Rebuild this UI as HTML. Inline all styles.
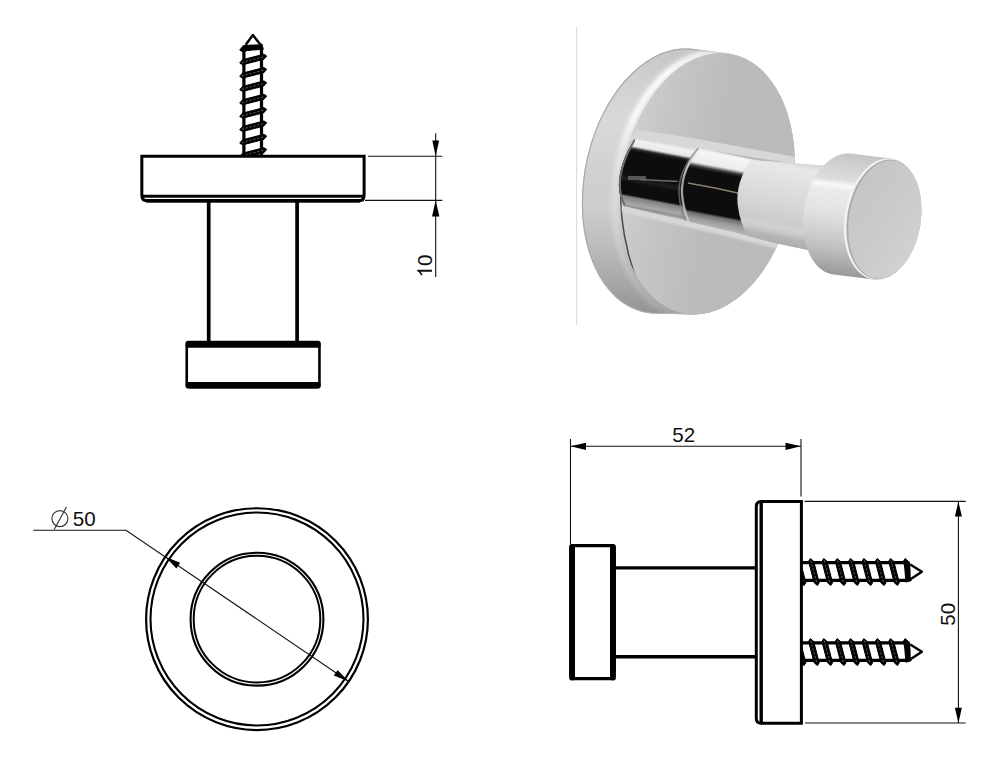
<!DOCTYPE html>
<html><head><meta charset="utf-8"><title>Hook drawing</title>
<style>
html,body{margin:0;padding:0;background:#fff;}
body{width:1000px;height:766px;overflow:hidden;font-family:"Liberation Sans",sans-serif;}
svg{display:block;position:absolute;left:0;top:0;}
text{font-family:"Liberation Sans",sans-serif;font-size:20.6px;fill:#111;}
</style></head><body>
<svg width="1000" height="766" viewBox="0 0 1000 766">
<defs>
<g id="screwA">
<path d="M0,-9 H105.3 M0,8.6 H105.3" stroke="#000" stroke-width="3.2" fill="none"/>
<path d="M-3.95,-13.2 L-0.67,-10.399999999999999 L4.87,11.0 L3.05,13.8 L-0.23,11.0 L-5.77,-10.399999999999999 Z M9.40,-13.2 L12.68,-10.399999999999999 L18.22,11.0 L16.40,13.8 L13.12,11.0 L7.58,-10.399999999999999 Z M22.75,-13.2 L26.03,-10.399999999999999 L31.57,11.0 L29.75,13.8 L26.47,11.0 L20.93,-10.399999999999999 Z M36.10,-13.2 L39.38,-10.399999999999999 L44.92,11.0 L43.10,13.8 L39.82,11.0 L34.28,-10.399999999999999 Z M49.45,-13.2 L52.73,-10.399999999999999 L58.27,11.0 L56.45,13.8 L53.17,11.0 L47.63,-10.399999999999999 Z M62.80,-13.2 L66.08,-10.399999999999999 L71.62,11.0 L69.80,13.8 L66.52,11.0 L60.98,-10.399999999999999 Z M76.15,-13.2 L79.43,-10.399999999999999 L84.97,11.0 L83.15,13.8 L79.87,11.0 L74.33,-10.399999999999999 Z M89.50,-13.2 L92.78,-10.399999999999999 L98.32,11.0 L96.50,13.8 L93.22,11.0 L87.68,-10.399999999999999 Z M104.10,-13.2 L107.38,-10.399999999999999 L110.07,0 L104.97,0 L102.28,-10.399999999999999 Z " fill="#000" stroke="#000" stroke-width="1" stroke-linejoin="round"/>
<path d="M-3.43,-11.2 L2.53,11.8 M9.92,-11.2 L15.88,11.8 M23.27,-11.2 L29.23,11.8 M36.62,-11.2 L42.58,11.8 M49.97,-11.2 L55.93,11.8 M63.32,-11.2 L69.28,11.8 M76.67,-11.2 L82.63,11.8 M90.02,-11.2 L95.98,11.8 " stroke="#8a8a8a" stroke-width="0.7" stroke-dasharray="2.2 1.8" fill="none"/>
<path d="M103.3,-10.8 L108.6,-9.6 L110.1,9 L104.8,10.4 Z" fill="#000" stroke="#000" stroke-width="1" stroke-linejoin="round"/>
<path d="M109.3,-7.2 L120.9,0 L109.8,7.2" stroke="#000" stroke-width="2.4" stroke-linejoin="round" fill="#fff"/>
</g>
<g id="screwB">
<path d="M0,-9 H107.2 M0,8.6 H107.2" stroke="#000" stroke-width="3.2" fill="none"/>
<path d="M-0.45,-13.2 L2.83,-10.399999999999999 L8.37,11.0 L6.55,13.8 L3.27,11.0 L-2.27,-10.399999999999999 Z M12.90,-13.2 L16.18,-10.399999999999999 L21.72,11.0 L19.90,13.8 L16.62,11.0 L11.08,-10.399999999999999 Z M26.25,-13.2 L29.53,-10.399999999999999 L35.07,11.0 L33.25,13.8 L29.97,11.0 L24.43,-10.399999999999999 Z M39.60,-13.2 L42.88,-10.399999999999999 L48.42,11.0 L46.60,13.8 L43.32,11.0 L37.78,-10.399999999999999 Z M52.95,-13.2 L56.23,-10.399999999999999 L61.77,11.0 L59.95,13.8 L56.67,11.0 L51.13,-10.399999999999999 Z M66.30,-13.2 L69.58,-10.399999999999999 L75.12,11.0 L73.30,13.8 L70.02,11.0 L64.48,-10.399999999999999 Z M79.65,-13.2 L82.93,-10.399999999999999 L88.47,11.0 L86.65,13.8 L83.37,11.0 L77.83,-10.399999999999999 Z M93.00,-13.2 L96.28,-10.399999999999999 L101.82,11.0 L100.00,13.8 L96.72,11.0 L91.18,-10.399999999999999 Z M106.00,-13.2 L109.28,-10.399999999999999 L111.97,0 L106.87,0 L104.18,-10.399999999999999 Z " fill="#000" stroke="#000" stroke-width="1" stroke-linejoin="round"/>
<path d="M0.07,-11.2 L6.03,11.8 M13.42,-11.2 L19.38,11.8 M26.77,-11.2 L32.73,11.8 M40.12,-11.2 L46.08,11.8 M53.47,-11.2 L59.43,11.8 M66.82,-11.2 L72.78,11.8 M80.17,-11.2 L86.13,11.8 M93.52,-11.2 L99.48,11.8 " stroke="#8a8a8a" stroke-width="0.7" stroke-dasharray="2.2 1.8" fill="none"/>
<path d="M105.2,-10.8 L110.5,-9.6 L112.0,9 L106.7,10.4 Z" fill="#000" stroke="#000" stroke-width="1" stroke-linejoin="round"/>
<path d="M111.2,-7.2 L121,0 L111.7,7.2" stroke="#000" stroke-width="2.4" stroke-linejoin="round" fill="#fff"/>
</g>

<filter id="soft" x="-5%" y="-5%" width="110%" height="110%"><feGaussianBlur stdDeviation="0.7"/></filter>
<filter id="b1" x="-20%" y="-20%" width="140%" height="140%"><feGaussianBlur stdDeviation="1.2"/></filter>
<filter id="b2" x="-20%" y="-20%" width="140%" height="140%"><feGaussianBlur stdDeviation="2"/></filter>
<filter id="b4" x="-30%" y="-30%" width="160%" height="160%"><feGaussianBlur stdDeviation="4"/></filter>
<filter id="b8" x="-40%" y="-40%" width="180%" height="180%"><feGaussianBlur stdDeviation="9"/></filter>
<linearGradient id="gRim" gradientUnits="userSpaceOnUse" x1="0" y1="47" x2="0" y2="316">
 <stop offset="0" stop-color="#c4c5c5"/><stop offset="0.12" stop-color="#cfd0d0"/>
 <stop offset="0.28" stop-color="#d8d9d9"/><stop offset="0.45" stop-color="#d0d2d1"/><stop offset="0.6" stop-color="#cccdcd"/>
 <stop offset="0.72" stop-color="#bebfbf"/><stop offset="0.83" stop-color="#adaeae"/>
 <stop offset="0.92" stop-color="#9fa0a0"/><stop offset="1" stop-color="#929393"/>
</linearGradient>
<linearGradient id="gHi" gradientUnits="userSpaceOnUse" x1="0" y1="47" x2="0" y2="316">
 <stop offset="0" stop-color="#fff" stop-opacity="0.6"/><stop offset="0.12" stop-color="#fff" stop-opacity="1"/>
 <stop offset="0.3" stop-color="#fff" stop-opacity="0.9"/><stop offset="0.42" stop-color="#fff" stop-opacity="0.5"/>
 <stop offset="0.55" stop-color="#fff" stop-opacity="0.3"/><stop offset="0.8" stop-color="#fff" stop-opacity="0.22"/>
 <stop offset="1" stop-color="#fff" stop-opacity="0.15"/>
</linearGradient>
<linearGradient id="gFace" gradientUnits="userSpaceOnUse" x1="619" y1="0" x2="797" y2="0">
 <stop offset="0" stop-color="#cecfcf"/><stop offset="0.25" stop-color="#c3c5c4"/>
 <stop offset="0.55" stop-color="#b9bcba"/><stop offset="1" stop-color="#b8bbb9"/>
</linearGradient>
<linearGradient id="gS1" gradientUnits="userSpaceOnUse" gradientTransform="translate(651,176.75) rotate(10.7)" x1="0" y1="-35.5" x2="0" y2="36">
 <stop offset="0" stop-color="#dcdcdc"/><stop offset="0.04" stop-color="#f2f2f2"/>
 <stop offset="0.12" stop-color="#e6e6e6"/><stop offset="0.16" stop-color="#2a2a2a"/>
 <stop offset="0.2" stop-color="#0a0a0a"/><stop offset="0.52" stop-color="#0c0c0c"/>
 <stop offset="0.58" stop-color="#202020"/><stop offset="0.64" stop-color="#0c0c0c"/>
 <stop offset="0.80" stop-color="#0e0e0e"/><stop offset="0.83" stop-color="#808181"/>
 <stop offset="0.93" stop-color="#a8a9a9"/><stop offset="0.97" stop-color="#8f9090"/><stop offset="1" stop-color="#b9baba"/>
</linearGradient>
<linearGradient id="gS2" gradientUnits="userSpaceOnUse" gradientTransform="translate(651,176.75) rotate(10.7)" x1="0" y1="-38" x2="0" y2="39">
 <stop offset="0" stop-color="#dadada"/><stop offset="0.05" stop-color="#f6f6f6"/>
 <stop offset="0.2" stop-color="#ebebeb"/><stop offset="0.25" stop-color="#383838"/>
 <stop offset="0.29" stop-color="#0a0a0a"/><stop offset="0.82" stop-color="#0d0d0d"/>
 <stop offset="0.85" stop-color="#6d6e6e"/>
 <stop offset="0.92" stop-color="#9c9d9d"/><stop offset="1" stop-color="#b4b5b5"/>
</linearGradient>
<linearGradient id="gS3" gradientUnits="userSpaceOnUse" gradientTransform="translate(651,176.75) rotate(10.7)" x1="0" y1="-41" x2="0" y2="43">
 <stop offset="0" stop-color="#d8d8d8"/><stop offset="0.07" stop-color="#e8e8e8"/>
 <stop offset="0.3" stop-color="#dfdfdf"/><stop offset="0.55" stop-color="#d5d5d5"/>
 <stop offset="0.72" stop-color="#cccccc"/><stop offset="0.8" stop-color="#d2d2d2"/>
 <stop offset="0.86" stop-color="#c6c6c6"/>
 <stop offset="0.91" stop-color="#b4b5b5"/><stop offset="1" stop-color="#acadad"/>
</linearGradient>
<linearGradient id="gCap" gradientUnits="userSpaceOnUse" x1="0" y1="-62" x2="0" y2="62">
 <stop offset="0" stop-color="#c2c3c3"/><stop offset="0.10" stop-color="#cfd0d0"/>
 <stop offset="0.23" stop-color="#dcdcdc"/><stop offset="0.275" stop-color="#f8f8f8"/>
 <stop offset="0.32" stop-color="#ebebeb"/><stop offset="0.48" stop-color="#e3e3e3"/>
 <stop offset="0.6" stop-color="#d7d7d7"/><stop offset="0.7" stop-color="#cbcbcb"/><stop offset="0.8" stop-color="#bcbdbd"/>
 <stop offset="0.9" stop-color="#aaabab"/><stop offset="1" stop-color="#979898"/>
</linearGradient>
<linearGradient id="gCapFace" gradientUnits="userSpaceOnUse" x1="846" y1="200" x2="922" y2="235">
 <stop offset="0" stop-color="#c4c6c6"/><stop offset="0.6" stop-color="#cacbcb"/><stop offset="1" stop-color="#d0d1d1"/>
</linearGradient>
<linearGradient id="gSeam" gradientUnits="userSpaceOnUse" x1="0" y1="145" x2="0" y2="224">
 <stop offset="0" stop-color="#f0f0f0"/><stop offset="0.2" stop-color="#d0d0d0"/><stop offset="0.45" stop-color="#9a9a9a"/>
 <stop offset="0.75" stop-color="#a8a8a8"/><stop offset="1" stop-color="#d0d0d0"/>
</linearGradient>
<clipPath id="cpRim"><path d="M581.9,202.4 L581.9,199.0 L582.0,195.6 L582.1,192.1 L582.4,188.6 L582.7,185.2 L583.0,181.7 L583.4,178.2 L583.9,174.8 L584.4,171.3 L585.0,167.8 L585.6,164.4 L586.3,161.0 L587.1,157.5 L587.9,154.1 L588.7,150.7 L589.7,147.4 L590.6,144.0 L591.7,140.7 L592.8,137.4 L593.9,134.2 L595.1,130.9 L596.4,127.7 L597.7,124.6 L599.0,121.4 L600.4,118.4 L601.9,115.3 L603.4,112.3 L604.9,109.4 L606.5,106.5 L608.1,103.6 L609.8,100.9 L611.5,98.1 L613.3,95.4 L615.1,92.8 L616.9,90.3 L618.8,87.8 L620.7,85.3 L622.7,82.9 L624.6,80.6 L626.7,78.4 L628.7,76.3 L630.8,74.2 L632.9,72.1 L635.0,70.2 L637.1,68.3 L639.3,66.5 L641.5,64.8 L643.7,63.2 L645.9,61.6 L648.2,60.2 L650.4,58.8 L652.7,57.5 L655.0,56.3 L657.3,55.1 L659.6,54.1 L661.9,53.1 L664.3,52.2 L666.6,51.5 L668.9,50.8 L671.3,50.2 L673.6,49.6 L675.9,49.2 L678.3,48.9 L680.6,48.6 L682.9,48.5 L685.2,48.4 L687.5,48.4 L689.8,48.6 L692.1,48.8 L728.3,53.5 L730.6,53.9 L732.8,54.3 L734.9,54.9 L737.1,55.5 L739.3,56.2 L741.4,57.0 L743.5,57.9 L745.6,58.8 L747.6,59.9 L749.6,61.0 L751.6,62.2 L753.6,63.5 L755.5,64.9 L757.4,66.4 L759.3,68.0 L761.1,69.6 L762.9,71.3 L764.6,73.1 L766.3,74.9 L768.0,76.9 L769.7,78.9 L771.2,81.0 L772.8,83.1 L774.3,85.3 L775.7,87.6 L777.1,90.0 L778.5,92.4 L779.8,94.9 L781.1,97.4 L782.3,100.0 L783.4,102.7 L784.5,105.4 L785.6,108.1 L786.6,110.9 L787.5,113.8 L788.4,116.7 L789.2,119.7 L790.0,122.7 L790.7,125.7 L791.4,128.8 L792.0,132.0 L792.6,135.1 L793.0,138.3 L793.5,141.5 L793.8,144.8 L794.2,148.1 L794.4,151.4 L794.6,154.7 L794.7,158.0 L794.8,161.4 L794.8,164.8 L794.8,168.2 L794.7,171.6 L794.5,175.0 L794.3,178.4 L794.0,181.8 L793.6,185.2 L793.2,188.7 L792.8,192.1 L792.2,195.5 L791.6,198.9 L791.0,202.3 L790.3,205.7 L789.6,209.0 L788.7,212.4 L787.9,215.7 L787.0,219.0 L786.0,222.3 L784.9,225.6 L783.9,228.8 L782.7,232.0 L781.5,235.1 L780.3,238.3 L779.0,241.4 L777.7,244.4 L776.3,247.4 L774.8,250.4 L773.4,253.3 L771.8,256.2 L770.3,259.0 L768.7,261.8 L767.0,264.5 L765.3,267.1 L763.6,269.7 L761.8,272.3 L760.0,274.8 L758.1,277.2 L756.2,279.6 L754.3,281.9 L752.4,284.1 L750.4,286.2 L748.4,288.3 L746.3,290.3 L744.3,292.3 L742.2,294.1 L740.1,295.9 L737.9,297.7 L735.8,299.3 L733.6,300.8 L731.4,302.3 L729.2,303.7 L727.0,305.0 L724.7,306.3 L722.5,307.4 L720.2,308.5 L717.9,309.4 L715.7,310.3 L713.4,311.1 L711.1,311.9 L708.8,312.5 L706.5,313.0 L704.2,313.5 L701.9,313.8 L699.6,314.1 L697.3,314.3 L695.1,314.4 L692.8,314.4 L654.5,313.6 L652.2,313.4 L649.9,313.2 L647.7,312.9 L645.4,312.5 L643.2,312.1 L641.0,311.5 L638.8,310.8 L636.6,310.1 L634.5,309.2 L632.4,308.3 L630.3,307.3 L628.2,306.2 L626.2,305.0 L624.2,303.8 L622.2,302.4 L620.3,301.0 L618.4,299.5 L616.5,297.9 L614.7,296.2 L612.9,294.4 L611.2,292.6 L609.4,290.7 L607.8,288.7 L606.2,286.6 L604.6,284.5 L603.0,282.3 L601.6,280.0 L600.1,277.7 L598.7,275.3 L597.4,272.8 L596.1,270.2 L594.9,267.6 L593.7,265.0 L592.5,262.3 L591.5,259.5 L590.4,256.7 L589.5,253.8 L588.5,250.9 L587.7,247.9 L586.9,244.9 L586.1,241.8 L585.5,238.7 L584.8,235.6 L584.3,232.4 L583.7,229.2 L583.3,225.9 L582.9,222.6 L582.6,219.3 L582.3,216.0 L582.1,212.6 L582.0,209.3 L581.9,205.9 Z"/></clipPath>
<clipPath id="cpFace"><ellipse cx="707.2" cy="183.7" rx="85.8" ry="131.9" transform="rotate(10.2 707.2 183.7)"/></clipPath>
<clipPath id="cpStem"><path d="M634,139 L651,141 L700,148 L756,160.5 L830,166 L830,254 L806,249.5 L778,243.8 L730,231 L689,221.5 L651,212.5 L624,206 Q610,180 634,139 Z"/></clipPath>
<clipPath id="cpCap"><path d="M803.3,223.9 L803.3,222.3 L803.3,220.7 L803.4,219.1 L803.4,217.6 L803.5,216.0 L803.7,214.4 L803.8,212.8 L804.0,211.2 L804.2,209.6 L804.5,208.1 L804.7,206.5 L805.0,204.9 L805.3,203.3 L805.7,201.8 L806.0,200.2 L806.4,198.7 L806.8,197.2 L807.3,195.7 L807.7,194.2 L808.2,192.7 L808.7,191.2 L809.3,189.7 L809.8,188.3 L810.4,186.9 L811.0,185.5 L811.6,184.1 L812.2,182.7 L812.9,181.4 L813.6,180.0 L814.3,178.7 L815.0,177.5 L815.7,176.2 L816.5,175.0 L817.2,173.8 L818.0,172.6 L818.8,171.5 L819.7,170.4 L820.5,169.3 L821.3,168.2 L822.2,167.2 L823.1,166.2 L824.0,165.2 L824.9,164.3 L825.8,163.4 L826.7,162.6 L827.7,161.8 L828.6,161.0 L829.6,160.2 L830.5,159.5 L831.5,158.9 L832.5,158.2 L833.5,157.6 L834.5,157.1 L835.5,156.5 L836.5,156.1 L837.5,155.6 L838.5,155.2 L839.5,154.9 L840.5,154.5 L841.5,154.3 L842.5,154.0 L843.5,153.8 L844.5,153.7 L845.6,153.6 L846.6,153.5 L847.6,153.5 L848.6,153.5 L849.6,153.5 L850.6,153.6 L891.1,158.6 L892.0,158.8 L893.0,158.9 L894.0,159.1 L895.0,159.4 L895.9,159.7 L896.9,160.0 L897.8,160.4 L898.7,160.8 L899.6,161.3 L900.5,161.8 L901.4,162.3 L902.3,162.9 L903.2,163.5 L904.0,164.2 L904.9,164.9 L905.7,165.6 L906.5,166.4 L907.3,167.2 L908.0,168.0 L908.8,168.9 L909.5,169.8 L910.2,170.7 L910.9,171.7 L911.6,172.7 L912.3,173.8 L912.9,174.8 L913.5,175.9 L914.1,177.0 L914.7,178.2 L915.3,179.4 L915.8,180.6 L916.3,181.8 L916.8,183.1 L917.2,184.4 L917.7,185.7 L918.1,187.0 L918.5,188.4 L918.8,189.8 L919.2,191.2 L919.5,192.6 L919.8,194.0 L920.0,195.5 L920.3,196.9 L920.5,198.4 L920.7,199.9 L920.8,201.4 L921.0,203.0 L921.1,204.5 L921.1,206.0 L921.2,207.6 L921.2,209.1 L921.2,210.7 L921.2,212.3 L921.1,213.9 L921.1,215.4 L921.0,217.0 L920.8,218.6 L920.7,220.2 L920.5,221.8 L920.3,223.4 L920.0,224.9 L919.8,226.5 L919.5,228.1 L919.2,229.7 L918.8,231.2 L918.5,232.8 L918.1,234.3 L917.7,235.8 L917.2,237.3 L916.8,238.8 L916.3,240.3 L915.8,241.8 L915.2,243.3 L914.7,244.7 L914.1,246.1 L913.5,247.5 L912.9,248.9 L912.3,250.3 L911.6,251.6 L910.9,253.0 L910.2,254.3 L909.5,255.5 L908.8,256.8 L908.0,258.0 L907.3,259.2 L906.5,260.4 L905.7,261.5 L904.8,262.6 L904.0,263.7 L903.2,264.8 L902.3,265.8 L901.4,266.8 L900.5,267.8 L899.6,268.7 L898.7,269.6 L897.8,270.4 L896.8,271.2 L895.9,272.0 L894.9,272.8 L894.0,273.5 L893.0,274.1 L892.0,274.8 L891.0,275.4 L890.0,275.9 L889.0,276.5 L888.0,276.9 L887.0,277.4 L886.0,277.8 L885.0,278.1 L884.0,278.5 L883.0,278.7 L882.0,279.0 L881.0,279.2 L880.0,279.3 L878.9,279.4 L877.9,279.5 L876.9,279.5 L875.9,279.5 L874.9,279.5 L873.9,279.4 L833.4,274.4 L832.5,274.2 L831.5,274.1 L830.5,273.9 L829.5,273.6 L828.6,273.3 L827.6,273.0 L826.7,272.6 L825.8,272.2 L824.9,271.7 L824.0,271.2 L823.1,270.7 L822.2,270.1 L821.3,269.5 L820.5,268.8 L819.6,268.1 L818.8,267.4 L818.0,266.6 L817.2,265.8 L816.5,265.0 L815.7,264.1 L815.0,263.2 L814.3,262.3 L813.6,261.3 L812.9,260.3 L812.2,259.2 L811.6,258.2 L811.0,257.1 L810.4,256.0 L809.8,254.8 L809.2,253.6 L808.7,252.4 L808.2,251.2 L807.7,249.9 L807.3,248.6 L806.8,247.3 L806.4,246.0 L806.0,244.6 L805.7,243.2 L805.3,241.8 L805.0,240.4 L804.7,239.0 L804.5,237.5 L804.2,236.1 L804.0,234.6 L803.8,233.1 L803.7,231.6 L803.5,230.0 L803.4,228.5 L803.4,227.0 L803.3,225.4 Z"/></clipPath>

</defs>
<rect width="1000" height="766" fill="#fff"/>

<!-- ===== top-left view ===== -->
<g id="tl">
<use href="#screwB" transform="translate(252.9,156) rotate(-90)"/>
<path d="M141.85,156.3 H364.1 V195.5 Q364.1,200.75 359,200.75 H147 Q141.85,200.75 141.85,195.5 Z" fill="#fff" stroke="#000" stroke-width="3" stroke-linejoin="miter"/>
<path d="M141.85,200.75 H365.2" stroke="#000" stroke-width="0" />
<rect x="146" y="199" width="214" height="3.6" fill="#000"/>
<path d="M141.85,196.2 H364.1" stroke="#000" stroke-width="2.9"/>
<path d="M208.7,202 V342 M297.1,202 V342" stroke="#000" stroke-width="3.7"/>
<rect x="186.75" y="342.2" width="132.7" height="45" rx="3" fill="#fff" stroke="#000" stroke-width="2.6"/>
<rect x="185.5" y="340.8" width="135.2" height="7" rx="2.5" fill="#000"/>
<rect x="185.5" y="382" width="135.2" height="6.5" rx="2.5" fill="#000"/>
<!-- dimension 10 -->
<path d="M368,156.3 H442.3 M365,200.4 H442.3 M435.7,133.3 V277" stroke="#111" stroke-width="1.1" fill="none"/>
<path d="M435.7,156.3 L432.3,140.6 H439.1 Z M435.7,200.4 L432,216.4 H439.4 Z" fill="#000"/>
<g transform="translate(432,277.5) rotate(-90)"><path d="M763,0H583V1147Q518,1085 412.5,1023Q307,961 223,930V1104Q374,1175 487,1276Q600,1377 647,1472H763Z" transform="scale(0.010059,-0.010059)" fill="#111"/><text x="11.46" y="0">0</text></g>
</g>

<!-- ===== bottom-left view ===== -->
<g id="bl">
<circle cx="257" cy="619.15" r="110.9" fill="none" stroke="#000" stroke-width="2.2"/>
<circle cx="257" cy="619" r="106.5" fill="none" stroke="#000" stroke-width="2.1"/>
<circle cx="257" cy="619.2" r="66.4" fill="none" stroke="#000" stroke-width="2.1"/>
<circle cx="257" cy="619.15" r="63.3" fill="none" stroke="#000" stroke-width="2"/>
<path d="M33.4,530.2 H126 L348.7,681.5" stroke="#111" stroke-width="1.1" fill="none"/>
<path d="M165.3,556.8 L176.4,568.4 L180.2,562.8 Z M348.7,681.5 L337.6,669.9 L333.8,675.5 Z" fill="#000"/>
<ellipse cx="59.9" cy="518.6" rx="8" ry="8" fill="none" stroke="#333" stroke-width="1.15"/>
<path d="M66.4,507 L54.2,529.6" stroke="#333" stroke-width="1.15"/>
<text x="72.7" y="526.1">50</text>
</g>

<!-- ===== bottom-right view ===== -->
<g id="br">
<use href="#screwA" transform="translate(801,571.7)"/>
<use href="#screwA" transform="translate(801,651.8)"/>
<path d="M761.2,501.4 H801.4 V723.15 H761.2" fill="#fff" stroke="#000" stroke-width="3" stroke-linejoin="miter"/>
<path d="M762,501.4 H761 Q756.3,501.4 756.3,506.4 V718.15 Q756.3,723.15 761,723.15 H762" fill="none" stroke="#000" stroke-width="3"/>
<path d="M761.2,501.4 V723.15" stroke="#000" stroke-width="3.4"/>
<path d="M615,567.85 H755.5 M615,656.75 H755.5" stroke="#000" stroke-width="3.4"/>
<rect x="570.8" y="545.6" width="43.4" height="133" rx="3" fill="#fff" stroke="#000" stroke-width="3.3"/>
<rect x="569.2" y="544" width="5.8" height="136.5" rx="2.5" fill="#000"/>
<rect x="610" y="544" width="5.8" height="136.5" rx="2.5" fill="#000"/>
<!-- dim 52 -->
<path d="M570.5,439 V544.5 M801,439 V496.5 M570.5,446.3 H801" stroke="#111" stroke-width="1.1" fill="none"/>
<path d="M570.5,446.3 L586,442.7 V449.9 Z M801,446.3 L785.5,442.7 V449.9 Z" fill="#000"/>
<text x="672.2" y="441.9">52</text>
<!-- dim 50 -->
<path d="M804.5,501.4 H965.7 M805,723 H965.7 M958.4,501.4 V723" stroke="#111" stroke-width="1.1" fill="none"/>
<path d="M958.4,501.4 L954.9,516.6 H961.9 Z M958.4,723 L954.9,707.8 H961.9 Z" fill="#000"/>
<text transform="translate(955,625.8) rotate(-90)">50</text>
</g>

<!-- ===== photo ===== -->
<g id="photo">

<rect x="576" y="27" width="1.2" height="298" fill="#dedede"/>
<g filter="url(#soft)">
<!-- rim -->
<path d="M581.9,202.4 L581.9,199.0 L582.0,195.6 L582.1,192.1 L582.4,188.6 L582.7,185.2 L583.0,181.7 L583.4,178.2 L583.9,174.8 L584.4,171.3 L585.0,167.8 L585.6,164.4 L586.3,161.0 L587.1,157.5 L587.9,154.1 L588.7,150.7 L589.7,147.4 L590.6,144.0 L591.7,140.7 L592.8,137.4 L593.9,134.2 L595.1,130.9 L596.4,127.7 L597.7,124.6 L599.0,121.4 L600.4,118.4 L601.9,115.3 L603.4,112.3 L604.9,109.4 L606.5,106.5 L608.1,103.6 L609.8,100.9 L611.5,98.1 L613.3,95.4 L615.1,92.8 L616.9,90.3 L618.8,87.8 L620.7,85.3 L622.7,82.9 L624.6,80.6 L626.7,78.4 L628.7,76.3 L630.8,74.2 L632.9,72.1 L635.0,70.2 L637.1,68.3 L639.3,66.5 L641.5,64.8 L643.7,63.2 L645.9,61.6 L648.2,60.2 L650.4,58.8 L652.7,57.5 L655.0,56.3 L657.3,55.1 L659.6,54.1 L661.9,53.1 L664.3,52.2 L666.6,51.5 L668.9,50.8 L671.3,50.2 L673.6,49.6 L675.9,49.2 L678.3,48.9 L680.6,48.6 L682.9,48.5 L685.2,48.4 L687.5,48.4 L689.8,48.6 L692.1,48.8 L728.3,53.5 L730.6,53.9 L732.8,54.3 L734.9,54.9 L737.1,55.5 L739.3,56.2 L741.4,57.0 L743.5,57.9 L745.6,58.8 L747.6,59.9 L749.6,61.0 L751.6,62.2 L753.6,63.5 L755.5,64.9 L757.4,66.4 L759.3,68.0 L761.1,69.6 L762.9,71.3 L764.6,73.1 L766.3,74.9 L768.0,76.9 L769.7,78.9 L771.2,81.0 L772.8,83.1 L774.3,85.3 L775.7,87.6 L777.1,90.0 L778.5,92.4 L779.8,94.9 L781.1,97.4 L782.3,100.0 L783.4,102.7 L784.5,105.4 L785.6,108.1 L786.6,110.9 L787.5,113.8 L788.4,116.7 L789.2,119.7 L790.0,122.7 L790.7,125.7 L791.4,128.8 L792.0,132.0 L792.6,135.1 L793.0,138.3 L793.5,141.5 L793.8,144.8 L794.2,148.1 L794.4,151.4 L794.6,154.7 L794.7,158.0 L794.8,161.4 L794.8,164.8 L794.8,168.2 L794.7,171.6 L794.5,175.0 L794.3,178.4 L794.0,181.8 L793.6,185.2 L793.2,188.7 L792.8,192.1 L792.2,195.5 L791.6,198.9 L791.0,202.3 L790.3,205.7 L789.6,209.0 L788.7,212.4 L787.9,215.7 L787.0,219.0 L786.0,222.3 L784.9,225.6 L783.9,228.8 L782.7,232.0 L781.5,235.1 L780.3,238.3 L779.0,241.4 L777.7,244.4 L776.3,247.4 L774.8,250.4 L773.4,253.3 L771.8,256.2 L770.3,259.0 L768.7,261.8 L767.0,264.5 L765.3,267.1 L763.6,269.7 L761.8,272.3 L760.0,274.8 L758.1,277.2 L756.2,279.6 L754.3,281.9 L752.4,284.1 L750.4,286.2 L748.4,288.3 L746.3,290.3 L744.3,292.3 L742.2,294.1 L740.1,295.9 L737.9,297.7 L735.8,299.3 L733.6,300.8 L731.4,302.3 L729.2,303.7 L727.0,305.0 L724.7,306.3 L722.5,307.4 L720.2,308.5 L717.9,309.4 L715.7,310.3 L713.4,311.1 L711.1,311.9 L708.8,312.5 L706.5,313.0 L704.2,313.5 L701.9,313.8 L699.6,314.1 L697.3,314.3 L695.1,314.4 L692.8,314.4 L654.5,313.6 L652.2,313.4 L649.9,313.2 L647.7,312.9 L645.4,312.5 L643.2,312.1 L641.0,311.5 L638.8,310.8 L636.6,310.1 L634.5,309.2 L632.4,308.3 L630.3,307.3 L628.2,306.2 L626.2,305.0 L624.2,303.8 L622.2,302.4 L620.3,301.0 L618.4,299.5 L616.5,297.9 L614.7,296.2 L612.9,294.4 L611.2,292.6 L609.4,290.7 L607.8,288.7 L606.2,286.6 L604.6,284.5 L603.0,282.3 L601.6,280.0 L600.1,277.7 L598.7,275.3 L597.4,272.8 L596.1,270.2 L594.9,267.6 L593.7,265.0 L592.5,262.3 L591.5,259.5 L590.4,256.7 L589.5,253.8 L588.5,250.9 L587.7,247.9 L586.9,244.9 L586.1,241.8 L585.5,238.7 L584.8,235.6 L584.3,232.4 L583.7,229.2 L583.3,225.9 L582.9,222.6 L582.6,219.3 L582.3,216.0 L582.1,212.6 L582.0,209.3 L581.9,205.9 Z" fill="url(#gRim)"/>
<g clip-path="url(#cpRim)">
 <path d="M581.9,202.4 L581.9,199.0 L582.0,195.6 L582.1,192.1 L582.4,188.6 L582.7,185.2 L583.0,181.7 L583.4,178.2 L583.9,174.8 L584.4,171.3 L585.0,167.8 L585.6,164.4 L586.3,161.0 L587.1,157.5 L587.9,154.1 L588.7,150.7 L589.7,147.4 L590.6,144.0 L591.7,140.7 L592.8,137.4 L593.9,134.2 L595.1,130.9 L596.4,127.7 L597.7,124.6 L599.0,121.4 L600.4,118.4 L601.9,115.3 L603.4,112.3 L604.9,109.4 L606.5,106.5 L608.1,103.6 L609.8,100.9 L611.5,98.1 L613.3,95.4 L615.1,92.8 L616.9,90.3 L618.8,87.8 L620.7,85.3 L622.7,82.9 L624.6,80.6 L626.7,78.4 L628.7,76.3 L630.8,74.2 L632.9,72.1 L635.0,70.2 L637.1,68.3 L639.3,66.5 L641.5,64.8 L643.7,63.2 L645.9,61.6 L648.2,60.2 L650.4,58.8 L652.7,57.5 L655.0,56.3 L657.3,55.1 L659.6,54.1 L661.9,53.1 L664.3,52.2 L666.6,51.5 L668.9,50.8 L671.3,50.2 L673.6,49.6 L675.9,49.2 L678.3,48.9 L680.6,48.6 L682.9,48.5 L685.2,48.4 L687.5,48.4 L689.8,48.6 L692.1,48.8 L728.3,53.5 L730.6,53.9 L732.8,54.3 L734.9,54.9 L737.1,55.5 L739.3,56.2 L741.4,57.0 L743.5,57.9 L745.6,58.8 L747.6,59.9 L749.6,61.0 L751.6,62.2 L753.6,63.5 L755.5,64.9 L757.4,66.4 L759.3,68.0 L761.1,69.6 L762.9,71.3 L764.6,73.1 L766.3,74.9 L768.0,76.9 L769.7,78.9 L771.2,81.0 L772.8,83.1 L774.3,85.3 L775.7,87.6 L777.1,90.0 L778.5,92.4 L779.8,94.9 L781.1,97.4 L782.3,100.0 L783.4,102.7 L784.5,105.4 L785.6,108.1 L786.6,110.9 L787.5,113.8 L788.4,116.7 L789.2,119.7 L790.0,122.7 L790.7,125.7 L791.4,128.8 L792.0,132.0 L792.6,135.1 L793.0,138.3 L793.5,141.5 L793.8,144.8 L794.2,148.1 L794.4,151.4 L794.6,154.7 L794.7,158.0 L794.8,161.4 L794.8,164.8 L794.8,168.2 L794.7,171.6 L794.5,175.0 L794.3,178.4 L794.0,181.8 L793.6,185.2 L793.2,188.7 L792.8,192.1 L792.2,195.5 L791.6,198.9 L791.0,202.3 L790.3,205.7 L789.6,209.0 L788.7,212.4 L787.9,215.7 L787.0,219.0 L786.0,222.3 L784.9,225.6 L783.9,228.8 L782.7,232.0 L781.5,235.1 L780.3,238.3 L779.0,241.4 L777.7,244.4 L776.3,247.4 L774.8,250.4 L773.4,253.3 L771.8,256.2 L770.3,259.0 L768.7,261.8 L767.0,264.5 L765.3,267.1 L763.6,269.7 L761.8,272.3 L760.0,274.8 L758.1,277.2 L756.2,279.6 L754.3,281.9 L752.4,284.1 L750.4,286.2 L748.4,288.3 L746.3,290.3 L744.3,292.3 L742.2,294.1 L740.1,295.9 L737.9,297.7 L735.8,299.3 L733.6,300.8 L731.4,302.3 L729.2,303.7 L727.0,305.0 L724.7,306.3 L722.5,307.4 L720.2,308.5 L717.9,309.4 L715.7,310.3 L713.4,311.1 L711.1,311.9 L708.8,312.5 L706.5,313.0 L704.2,313.5 L701.9,313.8 L699.6,314.1 L697.3,314.3 L695.1,314.4 L692.8,314.4 L654.5,313.6 L652.2,313.4 L649.9,313.2 L647.7,312.9 L645.4,312.5 L643.2,312.1 L641.0,311.5 L638.8,310.8 L636.6,310.1 L634.5,309.2 L632.4,308.3 L630.3,307.3 L628.2,306.2 L626.2,305.0 L624.2,303.8 L622.2,302.4 L620.3,301.0 L618.4,299.5 L616.5,297.9 L614.7,296.2 L612.9,294.4 L611.2,292.6 L609.4,290.7 L607.8,288.7 L606.2,286.6 L604.6,284.5 L603.0,282.3 L601.6,280.0 L600.1,277.7 L598.7,275.3 L597.4,272.8 L596.1,270.2 L594.9,267.6 L593.7,265.0 L592.5,262.3 L591.5,259.5 L590.4,256.7 L589.5,253.8 L588.5,250.9 L587.7,247.9 L586.9,244.9 L586.1,241.8 L585.5,238.7 L584.8,235.6 L584.3,232.4 L583.7,229.2 L583.3,225.9 L582.9,222.6 L582.6,219.3 L582.3,216.0 L582.1,212.6 L582.0,209.3 L581.9,205.9 Z" fill="none" stroke="#a9aaaa" stroke-width="2.4" filter="url(#soft)"/>
 <ellipse cx="702.2" cy="183.7" rx="85.8" ry="131.9" transform="rotate(10.2 702.2 183.7)" fill="none" stroke="url(#gHi)" stroke-width="7" filter="url(#b2)"/>
 
</g>
<!-- face -->
<ellipse cx="707.2" cy="183.7" rx="85.8" ry="131.9" transform="rotate(10.2 707.2 183.7)" fill="url(#gFace)"/>
<g clip-path="url(#cpFace)">
 <path d="M620.6,196 Q621,235 635,276" stroke="#333" stroke-width="1.5" fill="none" filter="url(#soft)" opacity="0.85"/>
 <path d="M635,276 Q647,303 671,318" stroke="#e2e2e2" stroke-width="1.6" fill="none" filter="url(#soft)" opacity="0.9"/>
 <!-- light band under stem -->
 <path d="M622,205 L651,211.5 L689,220.5 L730,230 L778,242.8 L778,249 L730,237 L689,227.5 L651,218.5 L622,212 Z" fill="#d6d7d7" filter="url(#b1)"/>
 <!-- light band above stem -->
 <path d="M636,130 L651,131.5 L700,139.5 L796,157 L796,164 L700,149 L651,142 L630,140 Z" fill="#d6d7d7" filter="url(#soft)"/>
</g>
<!-- stem -->
<g clip-path="url(#cpStem)">
 <rect x="610" y="120" width="230" height="150" fill="url(#gS1)"/>
 <path d="M703,140 Q681,168 682,194 Q683,208 690,226 L770,250 L780,150 Z" fill="url(#gS2)"/>
 <!-- lip at left end -->
 <path d="M634,139 Q610,180 624,206" stroke="#6a6a6a" stroke-width="4" fill="none" filter="url(#soft)"/>
 <!-- streaks -->
 <path d="M628,176 H646 V180 H628 Z" fill="#555" filter="url(#soft)"/>
 <path d="M640,179.5 L678,181.5" stroke="#6c6c6c" stroke-width="1.3" filter="url(#soft)"/>
 <path d="M688,183 L715,188 L740,193.5" stroke="#8a7f72" stroke-width="1.5" fill="none" filter="url(#soft)"/>
 <!-- seam -->
 <path d="M702,145 Q681,168 682,194 Q683,208 689.5,224" stroke="url(#gSeam)" stroke-width="2.3" fill="none" filter="url(#soft)"/>
 <path d="M698.5,148 Q678,170 679,194 Q680,208 686,222" stroke="#7c7c7c" stroke-width="1.6" fill="none" filter="url(#soft)" opacity="0.7"/>
 <!-- light section -->
 <path d="M755,154 Q734,182 738,207 Q740,224 750,240 L840,262 L840,150 Z" fill="url(#gS3)"/>
</g>
<!-- cap body -->
<g clip-path="url(#cpCap)">
 <g transform="translate(862,216) rotate(7)">
  <rect x="-70" y="-70" width="140" height="140" fill="url(#gCap)"/>
 </g>
</g>
<ellipse cx="882.5" cy="219" rx="38" ry="61" transform="rotate(9 882.5 219)" fill="#f2f2f2"/>
<ellipse cx="883.9" cy="219.3" rx="36.8" ry="60.2" transform="rotate(9 883.9 219.3)" fill="#a9aaaa"/>
<ellipse cx="884.9" cy="219.5" rx="36" ry="59.6" transform="rotate(9 884.9 219.5)" fill="url(#gCapFace)"/>
</g>

</g>
</svg>
</body></html>
